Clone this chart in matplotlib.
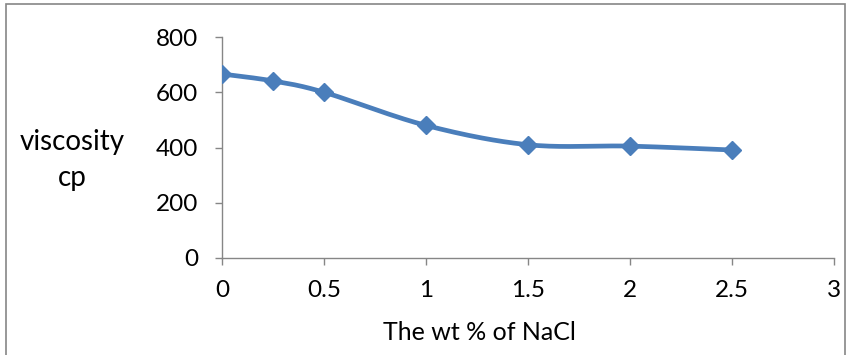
import numpy as np
import matplotlib
matplotlib.use("Agg")
import matplotlib.pyplot as plt
from matplotlib.patches import Rectangle

plt.rcParams['font.family'] = ['Lato', 'DejaVu Sans']

nacl_wt = [0, 0.25, 0.5, 1.0, 1.5, 2.0, 2.5]
viscosity = [666, 641, 600, 480, 410, 405, 391]
x_ticks = [0, 0.5, 1, 1.5, 2, 2.5, 3]
x_tick_labels = ["0", "0.5", "1", "1.5", "2", "2.5", "3"]
y_ticks = [0, 200, 400, 600, 800]


def smooth_curve(x, y, n=30):
    """Bezier smoothing through the points (Catmull-Rom style)."""
    x = np.asarray(x, float)
    y = np.asarray(y, float)
    pts = np.column_stack([x, y])
    out = []
    t = np.linspace(0, 1, n)
    for i in range(len(pts) - 1):
        p0 = pts[i - 1] if i > 0 else pts[i]
        p1 = pts[i]
        p2 = pts[i + 1]
        p3 = pts[i + 2] if i + 2 < len(pts) else pts[i + 1]
        c1 = p1 + (p2 - p0) / 6.0
        c2 = p2 - (p3 - p1) / 6.0
        seg = ((1 - t)[:, None] ** 3 * p1 + 3 * ((1 - t) ** 2 * t)[:, None] * c1
               + 3 * ((1 - t) * t ** 2)[:, None] * c2 + (t ** 3)[:, None] * p2)
        out.append(seg if i == 0 else seg[1:])
    seg = np.vstack(out)
    return seg[:, 0], seg[:, 1]


fig = plt.figure(figsize=(8.47, 3.55), dpi=100)
ax = fig.add_axes([222 / 847, (355 - 258) / 355, (834 - 222) / 847, (258 - 37) / 355])

color = '#4A7EBB'
sx, sy = smooth_curve(nacl_wt, viscosity)
ax.plot(sx, sy, color=color, lw=3.4, solid_capstyle='round', zorder=3)
ax.plot(nacl_wt, viscosity, linestyle='none', marker='D', markersize=9,
        color=color, zorder=4)

ax.set_xlim(0, 3)
ax.set_ylim(0, 800)
ax.set_xticks(x_ticks)
ax.set_xticklabels(x_tick_labels)
ax.set_yticks(y_ticks)

for side in ('top', 'right'):
    ax.spines[side].set_visible(False)
for side in ('left', 'bottom'):
    ax.spines[side].set_color('#868686')
    ax.spines[side].set_linewidth(1.0)
ax.tick_params(axis='both', direction='out', length=5, width=1.0,
               color='#868686', labelsize=17.5, labelcolor='black')
ax.tick_params(axis='x', pad=11)
ax.tick_params(axis='y', pad=12)

fig.text(72 / 847, 1 - 160 / 355, "viscosity\ncp", ha='center', va='center',
         fontsize=20, linespacing=1.5)
fig.text(479 / 847, 1 - 333 / 355, "The wt % of NaCl", ha='center', va='center',
         fontsize=18)

fig.patches.append(Rectangle((6 / 847, -0.05), (845 - 6) / 847, 1 - 4 / 355 + 0.05,
                             transform=fig.transFigure, fill=False,
                             edgecolor='#868686', linewidth=1.2))

fig.savefig('out.png', dpi=100)
